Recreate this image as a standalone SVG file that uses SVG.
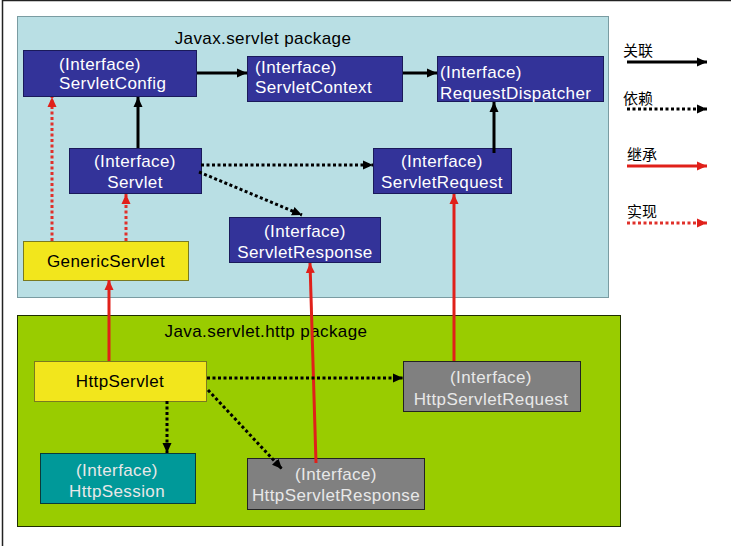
<svg xmlns="http://www.w3.org/2000/svg" width="731" height="546" viewBox="0 0 731 546">
<style>
text{font-family:"Liberation Sans",Arial,sans-serif;font-size:17px;letter-spacing:0.4px}
.w{fill:#ffffff}
.k{fill:#000000}
.lt{fill:#e8e8e8}
.m{text-anchor:middle}
.blue{fill:#333399;stroke:#1a1a5a;stroke-width:1}
.yel{fill:#f2e61c;stroke:#7a7a20;stroke-width:1}
.grey{fill:#808080;stroke:#222;stroke-width:1}
.teal{fill:#009999;stroke:#0a3a3a;stroke-width:1}
.assoc{stroke:#000;stroke-width:3;fill:none}
.dep{stroke:#000;stroke-width:3;fill:none;stroke-dasharray:3 2.5}
.inh{stroke:#e0201a;stroke-width:3;fill:none}
.impl{stroke:#e0302a;stroke-width:3;fill:none;stroke-dasharray:3 2.5}
.cjk{font-family:"Noto Sans CJK SC",sans-serif;font-size:15px;letter-spacing:0}
</style>
<defs>
<marker id="ak" markerUnits="userSpaceOnUse" markerWidth="10" markerHeight="10" viewBox="0 0 10 10" refX="10" refY="5" orient="auto"><path d="M0,0.5 L10,5 L0,9.5 Z" fill="#000"/></marker>
<marker id="ar" markerUnits="userSpaceOnUse" markerWidth="10" markerHeight="10" viewBox="0 0 10 10" refX="10" refY="5" orient="auto"><path d="M0,0.5 L10,5 L0,9.5 Z" fill="#e0201a"/></marker>
</defs>
<rect x="0" y="0" width="731" height="546" fill="#ffffff"/>
<path d="M2.5,546 V0.5 H731" fill="none" stroke="#222" stroke-width="1.5"/>

<g id="pkg-javax">
<rect x="17.5" y="16.5" width="591" height="281" fill="#b9dfe4" stroke="#7a9ca2" stroke-width="1"/>
<text x="263" y="44" class="k m">Javax.servlet package</text>
</g>
<g id="pkg-http">
<rect x="17.5" y="315.5" width="603" height="211" fill="#99cc00" stroke="#1e2e00" stroke-width="1"/>
<text x="266" y="337" class="k m">Java.servlet.http package</text>
</g>

<g id="ServletConfig">
<rect x="23.5" y="50.5" width="173" height="46" class="blue"/>
<text x="59" y="70" class="w">(Interface)</text>
<text x="59" y="89" class="w">ServletConfig</text>
</g>
<g id="ServletContext">
<rect x="247.5" y="56.5" width="155" height="45" class="blue"/>
<text x="255" y="73" class="w">(Interface)</text>
<text x="255" y="93" class="w">ServletContext</text>
</g>
<g id="RequestDispatcher">
<rect x="437.5" y="56.5" width="166" height="45" class="blue"/>
<text x="440" y="78" class="w">(Interface)</text>
<text x="440" y="99" class="w">RequestDispatcher</text>
</g>
<g id="Servlet">
<rect x="69.5" y="148.5" width="132" height="45" class="blue"/>
<text x="135" y="167" class="w m">(Interface)</text>
<text x="135" y="188" class="w m">Servlet</text>
</g>
<g id="ServletRequest">
<rect x="373.5" y="148.5" width="138" height="45" class="blue"/>
<text x="442" y="167" class="w m">(Interface)</text>
<text x="442" y="188" class="w m">ServletRequest</text>
</g>
<g id="ServletResponse">
<rect x="229.5" y="217.5" width="151" height="45" class="blue"/>
<text x="305" y="237" class="w m">(Interface)</text>
<text x="305" y="258" class="w m">ServletResponse</text>
</g>
<g id="GenericServlet">
<rect x="23.5" y="241.5" width="165" height="39" class="yel"/>
<text x="106" y="267" class="k m">GenericServlet</text>
</g>
<g id="HttpServlet">
<rect x="34.5" y="361.5" width="172" height="40" class="yel"/>
<text x="120" y="387" class="k m">HttpServlet</text>
</g>
<g id="HttpServletRequest">
<rect x="403.5" y="361.5" width="177" height="50" class="grey"/>
<text x="491" y="383" class="lt m">(Interface)</text>
<text x="491" y="405" class="lt m">HttpServletRequest</text>
</g>
<g id="HttpSession">
<rect x="40.5" y="453.5" width="155" height="50" class="teal"/>
<text x="117" y="476" class="lt m">(Interface)</text>
<text x="117" y="497" class="lt m">HttpSession</text>
</g>
<g id="HttpServletResponse">
<rect x="247.5" y="458.5" width="177" height="51" class="grey"/>
<text x="336" y="480" class="lt m">(Interface)</text>
<text x="336" y="501" class="lt m">HttpServletResponse</text>
</g>

<g id="connectors">
<line x1="197" y1="73" x2="247" y2="73" class="assoc" marker-end="url(#ak)"/>
<line x1="403" y1="73" x2="437" y2="73" class="assoc" marker-end="url(#ak)"/>
<line x1="138" y1="148" x2="138" y2="97" class="assoc" marker-end="url(#ak)"/>
<line x1="494" y1="153" x2="494" y2="102" class="assoc" marker-end="url(#ak)"/>
<line x1="201" y1="165" x2="373" y2="165" class="dep" marker-end="url(#ak)"/>
<line x1="199" y1="172" x2="302" y2="215" class="dep" marker-end="url(#ak)"/>
<line x1="52" y1="241" x2="52" y2="97" class="impl" marker-end="url(#ar)"/>
<line x1="126" y1="241" x2="126" y2="194" class="impl" marker-end="url(#ar)"/>
<line x1="109" y1="361" x2="109" y2="280" class="inh" marker-end="url(#ar)"/>
<line x1="316" y1="463" x2="310" y2="263" class="inh" marker-end="url(#ar)"/>
<line x1="454" y1="361" x2="454" y2="194" class="inh" marker-end="url(#ar)"/>
<line x1="207" y1="378" x2="403" y2="378" class="dep" marker-end="url(#ak)"/>
<line x1="167" y1="401" x2="167" y2="453" class="dep" marker-end="url(#ak)"/>
<line x1="208" y1="390" x2="282" y2="469" class="dep" marker-end="url(#ak)"/>
</g>

<g id="legend">
<text x="623" y="56" class="k cjk">关联</text>
<line x1="627" y1="62" x2="707" y2="62" class="assoc" marker-end="url(#ak)"/>
<text x="623" y="104" class="k cjk">依赖</text>
<line x1="627" y1="109" x2="707" y2="109" class="dep" marker-end="url(#ak)"/>
<text x="627" y="160" class="k cjk">继承</text>
<line x1="627" y1="166" x2="707" y2="166" class="inh" marker-end="url(#ar)"/>
<text x="627" y="217" class="k cjk">实现</text>
<line x1="627" y1="223" x2="707" y2="223" class="impl" marker-end="url(#ar)"/>
</g>
</svg>
